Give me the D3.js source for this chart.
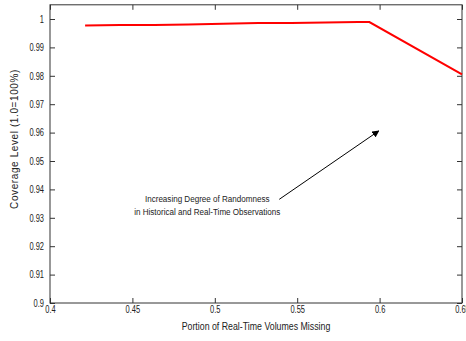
<!DOCTYPE html>
<html>
<head>
<meta charset="utf-8">
<script src="https://d3js.org/d3.v7.min.js"></script>
<style>
  body { margin: 0; background: #fff; }
  svg text { font-family: "Liberation Sans Narrow", "Arial Narrow", "Liberation Sans", Arial, sans-serif; fill: #222; }
  .frame { fill: none; stroke: #333; stroke-width: 1; }
  .tick line { stroke: #333; }
  .series { fill: none; stroke: #ff0000; stroke-width: 2; }
</style>
</head>
<body>
<svg id="chart" width="466" height="341"></svg>
<script>
  // values
  var missing = [0.4213, 0.4425, 0.4632, 0.4838, 0.505, 0.5264, 0.5464, 0.567, 0.587, 0.5938, 0.65];
  var coverage = [0.9977, 0.9979, 0.9979, 0.9981, 0.99835, 0.9986, 0.9986, 0.9988, 0.9989, 0.9989, 0.9805];
  var xTicks = [0.4, 0.45, 0.5, 0.55, 0.6, 0.65];
  var yTicks = [0.9, 0.91, 0.92, 0.93, 0.94, 0.95, 0.96, 0.97, 0.98, 0.99, 1];
  var noteLines = ["Increasing Degree of Randomness", "in Historical and Real-Time Observations"];
  var arrowFrom = [0.5391, 0.9365];
  var arrowTo = [0.5995, 0.9606];

  var padL = 50, padR = 462, padT = 4.8, padB = 303;

  var x = d3.scaleLinear().domain([0.4, 0.65]).range([padL, padR]);
  var y = d3.scaleLinear().domain([0.9, 1.005]).range([padB, padT]);

  var svg = d3.select('#chart');

  svg.append('defs').append('marker')
    .attr('id', 'head')
    .attr('viewBox', '0 0 10 10')
    .attr('refX', 9).attr('refY', 5)
    .attr('markerWidth', 7).attr('markerHeight', 7)
    .attr('markerUnits', 'userSpaceOnUse')
    .attr('orient', 'auto')
    .append('path').attr('d', 'M0,0L10,5L0,10z').attr('fill', '#000');

  // narrow-looking labels: squeeze horizontally around their anchor
  function squeeze(sel, sx) {
    sel.each(function() {
      var t = d3.select(this);
      var tx = +t.attr('x') || 0;
      t.attr('transform', 'translate(' + tx + ',0) scale(' + sx + ',1) translate(' + (-tx) + ',0)');
    });
  }

  var fmt = function(d) { return String(+d.toFixed(2)); };

  // ticks on all four sides, pointing inward
  svg.append('g').attr('transform', 'translate(0,' + padB + ')')
    .call(d3.axisBottom(x).tickValues(xTicks).tickSizeInner(-5).tickSizeOuter(0).tickPadding(3).tickFormat(fmt))
    .call(function(g) { g.select('.domain').remove(); })
    .selectAll('text').style('font-size', '10px').attr('dy', '0.71em').call(squeeze, 0.75);

  svg.append('g').attr('transform', 'translate(0,' + padT + ')')
    .call(d3.axisTop(x).tickValues(xTicks).tickSizeInner(-5).tickSizeOuter(0).tickFormat(''))
    .call(function(g) { g.select('.domain').remove(); });

  svg.append('g').attr('transform', 'translate(' + padL + ',0)')
    .call(d3.axisLeft(y).tickValues(yTicks).tickSizeInner(-5).tickSizeOuter(0).tickPadding(6).tickFormat(fmt))
    .call(function(g) { g.select('.domain').remove(); })
    .selectAll('text').style('font-size', '10px').call(squeeze, 0.75);

  svg.append('g').attr('transform', 'translate(' + padR + ',0)')
    .call(d3.axisRight(y).tickValues(yTicks).tickSizeInner(-5).tickSizeOuter(0).tickFormat(''))
    .call(function(g) { g.select('.domain').remove(); });

  svg.append('rect').attr('class', 'frame')
    .attr('x', padL).attr('y', padT)
    .attr('width', padR - padL).attr('height', padB - padT);

  // the series
  var line = d3.line()
    .x(function(d, i) { return x(missing[i]); })
    .y(function(d) { return y(d); });
  svg.append('path').attr('class', 'series').attr('d', line(coverage));

  // annotation
  var note = svg.append('text')
    .attr('text-anchor', 'middle')
    .style('font-size', '9.5px')
    .attr('transform', 'translate(' + x(0.4954) + ',0) scale(0.85,1) translate(' + (-x(0.4954)) + ',0)');
  note.selectAll('tspan').data(noteLines).enter().append('tspan')
    .attr('x', x(0.4954))
    .attr('y', function(d, i) { return y(0.9357) + i * 13.5; })
    .text(function(d) { return d; });

  svg.append('line')
    .attr('x1', x(arrowFrom[0])).attr('y1', y(arrowFrom[1]))
    .attr('x2', x(arrowTo[0])).attr('y2', y(arrowTo[1]))
    .attr('stroke', '#000').attr('stroke-width', 1)
    .attr('marker-end', 'url(#head)');

  // axis titles
  svg.append('text')
    .attr('x', (padL + padR) / 2).attr('y', 330)
    .attr('text-anchor', 'middle')
    .style('font-size', '10px')
    .attr('transform', 'translate(' + ((padL + padR) / 2) + ',0) scale(0.88,1) translate(' + (-(padL + padR) / 2) + ',0)')
    .text('Portion of Real-Time Volumes Missing');

  svg.append('text')
    .attr('transform', 'translate(18,139) rotate(-90)')
    .attr('text-anchor', 'middle')
    .style('font-size', '10px')
    .style('letter-spacing', '0.6px')
    .text('Coverage Level (1.0=100%)');
</script>
</body>
</html>
